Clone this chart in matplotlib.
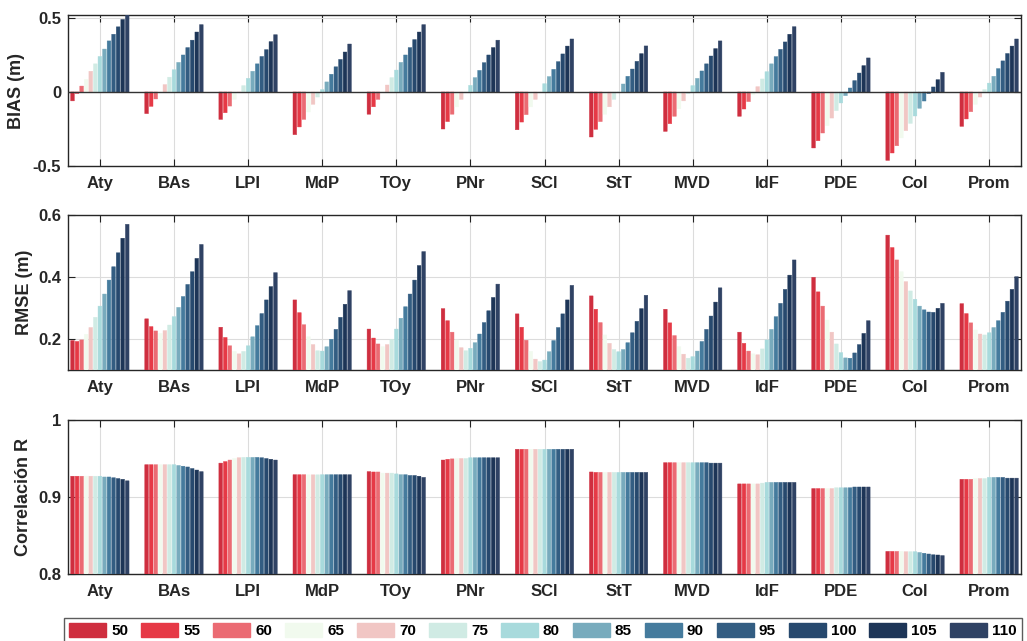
import numpy as np
import matplotlib.pyplot as plt
from matplotlib.patches import Patch

plt.rcParams['font.family'] = ['Liberation Sans', 'DejaVu Sans']
plt.rcParams['font.weight'] = 'bold'

sites = ['Aty', 'BAs', 'LPI', 'MdP', 'TOy', 'PNr', 'SCl', 'StT', 'MVD', 'IdF', 'PDE', 'Col', 'Prom']
levels = ['50', '55', '60', '65', '70', '75', '80', '85', '90', '95', '100', '105', '110']
colors = ['#cf2e3f', '#e63946', '#eb6b73', '#f1faee', '#f1c6c4', '#d0ebe4', '#a8dadc',
          '#78abbd', '#457b9d', '#335d82', '#27496e', '#1d3557', '#2f4264']

# rows = sites, columns = levels
bias = [
    [-0.06, -0.01, 0.04, 0.085, 0.14, 0.19, 0.24, 0.29, 0.345, 0.39, 0.44, 0.49, 0.54],
    [-0.146, -0.097, -0.047, 0.0, 0.05, 0.10, 0.15, 0.20, 0.25, 0.30, 0.35, 0.405, 0.455],
    [-0.185, -0.14, -0.095, -0.05, -0.005, 0.043, 0.092, 0.14, 0.19, 0.24, 0.286, 0.34, 0.387],
    [-0.288, -0.236, -0.185, -0.135, -0.083, -0.034, 0.016, 0.068, 0.12, 0.17, 0.22, 0.27, 0.324],
    [-0.15, -0.10, -0.05, 0.0, 0.047, 0.097, 0.148, 0.20, 0.25, 0.30, 0.354, 0.405, 0.455],
    [-0.25, -0.20, -0.15, -0.10, -0.05, -0.005, 0.045, 0.097, 0.146, 0.198, 0.25, 0.30, 0.35],
    [-0.255, -0.203, -0.153, -0.10, -0.05, 0.0, 0.056, 0.104, 0.153, 0.205, 0.257, 0.31, 0.358],
    [-0.304, -0.252, -0.20, -0.15, -0.10, -0.05, 0.0, 0.054, 0.106, 0.155, 0.207, 0.259, 0.311],
    [-0.266, -0.214, -0.164, -0.113, -0.06, -0.011, 0.043, 0.092, 0.142, 0.19, 0.243, 0.293, 0.345],
    [-0.164, -0.115, -0.065, -0.016, 0.036, 0.088, 0.137, 0.19, 0.239, 0.288, 0.338, 0.39, 0.441],
    [-0.378, -0.329, -0.277, -0.227, -0.176, -0.126, -0.074, -0.025, 0.027, 0.077, 0.128, 0.178, 0.23],
    [-0.462, -0.412, -0.363, -0.31, -0.261, -0.212, -0.162, -0.11, -0.061, -0.011, 0.034, 0.083, 0.133],
    [-0.232, -0.182, -0.133, -0.083, -0.034, 0.016, 0.06, 0.106, 0.158, 0.21, 0.26, 0.31, 0.358],
]
rmse = [
    [0.195, 0.192, 0.197, 0.215, 0.237, 0.27, 0.306, 0.345, 0.39, 0.433, 0.478, 0.525, 0.57],
    [0.265, 0.24, 0.226, 0.218, 0.227, 0.245, 0.272, 0.302, 0.337, 0.376, 0.417, 0.46, 0.505],
    [0.238, 0.205, 0.178, 0.16, 0.152, 0.16, 0.178, 0.207, 0.243, 0.282, 0.326, 0.369, 0.414],
    [0.326, 0.285, 0.246, 0.207, 0.182, 0.162, 0.161, 0.175, 0.199, 0.231, 0.27, 0.312, 0.356],
    [0.232, 0.203, 0.184, 0.175, 0.182, 0.199, 0.232, 0.267, 0.304, 0.345, 0.39, 0.437, 0.482],
    [0.298, 0.259, 0.222, 0.197, 0.172, 0.162, 0.17, 0.188, 0.216, 0.253, 0.291, 0.334, 0.377],
    [0.281, 0.238, 0.196, 0.16, 0.135, 0.127, 0.132, 0.159, 0.195, 0.237, 0.281, 0.326, 0.373],
    [0.339, 0.296, 0.253, 0.213, 0.186, 0.166, 0.159, 0.166, 0.188, 0.22, 0.257, 0.298, 0.341],
    [0.296, 0.252, 0.211, 0.175, 0.151, 0.138, 0.143, 0.161, 0.192, 0.231, 0.274, 0.319, 0.365],
    [0.222, 0.186, 0.161, 0.152, 0.149, 0.168, 0.197, 0.231, 0.272, 0.315, 0.36, 0.406, 0.455],
    [0.399, 0.352, 0.306, 0.261, 0.222, 0.184, 0.156, 0.139, 0.138, 0.155, 0.182, 0.218, 0.259],
    [0.535, 0.495, 0.455, 0.417, 0.385, 0.355, 0.328, 0.306, 0.294, 0.287, 0.286, 0.299, 0.315],
    [0.314, 0.282, 0.252, 0.229, 0.216, 0.213, 0.22, 0.237, 0.259, 0.286, 0.322, 0.36, 0.401],
]
corr = [
    [0.927, 0.927, 0.927, 0.927, 0.927, 0.927, 0.927, 0.926, 0.926, 0.925, 0.924, 0.923, 0.921],
    [0.942, 0.942, 0.942, 0.942, 0.942, 0.942, 0.942, 0.941, 0.940, 0.939, 0.937, 0.935, 0.933],
    [0.944, 0.946, 0.948, 0.950, 0.951, 0.9515, 0.9515, 0.9515, 0.9515, 0.951, 0.950, 0.949, 0.948],
    [0.929, 0.929, 0.929, 0.9288, 0.9288, 0.9288, 0.929, 0.929, 0.929, 0.929, 0.929, 0.929, 0.929],
    [0.933, 0.9325, 0.9325, 0.931, 0.931, 0.931, 0.930, 0.929, 0.929, 0.928, 0.928, 0.927, 0.9255],
    [0.948, 0.949, 0.9495, 0.950, 0.950, 0.950, 0.951, 0.951, 0.951, 0.951, 0.951, 0.951, 0.951],
    [0.962, 0.962, 0.962, 0.962, 0.962, 0.962, 0.962, 0.962, 0.962, 0.962, 0.962, 0.962, 0.962],
    [0.9325, 0.932, 0.932, 0.932, 0.932, 0.932, 0.932, 0.932, 0.932, 0.932, 0.932, 0.932, 0.932],
    [0.9446, 0.9446, 0.9446, 0.9446, 0.9446, 0.9446, 0.9446, 0.9446, 0.9446, 0.9446, 0.944, 0.944, 0.944],
    [0.917, 0.917, 0.917, 0.917, 0.917, 0.918, 0.919, 0.919, 0.919, 0.919, 0.919, 0.919, 0.919],
    [0.911, 0.911, 0.911, 0.911, 0.911, 0.912, 0.912, 0.912, 0.912, 0.913, 0.913, 0.913, 0.913],
    [0.8294, 0.8294, 0.8294, 0.8294, 0.829, 0.829, 0.829, 0.828, 0.827, 0.826, 0.825, 0.8247, 0.824],
    [0.923, 0.923, 0.923, 0.924, 0.924, 0.924, 0.9255, 0.9255, 0.9255, 0.9255, 0.9245, 0.9245, 0.9245],
]

fig = plt.figure(figsize=(10.27, 6.41), dpi=100)
x = np.arange(1, len(sites) + 1)
slot = 0.8 / len(levels)

panels = [
    (bias, 'BIAS (m)', (-0.5, 0.52), [-0.5, 0, 0.5], ['-0.5', '0', '0.5'], 0.741, 0.2356, -0.045),
    (rmse, 'RMSE (m)', (0.1, 0.6), [0.2, 0.4, 0.6], ['0.2', '0.4', '0.6'], 0.4228, 0.2418, -0.037),
    (corr, 'Correlación R', (0.8, 1.0), [0.8, 0.9, 1.0], ['0.8', '0.9', '1'], 0.1045, 0.2403, -0.038),
]

for data, ylabel, ylim, yticks, yticklabels, bottom, height, labx in panels:
    ax = fig.add_axes([68 / 1027, bottom, 953 / 1027, height])
    vals = np.array(data)
    for j in range(len(levels)):
        ax.bar(x + (j - 6) * slot, vals[:, j], width=slot * 0.8, color=colors[j],
               edgecolor=colors[j], linewidth=0.3, zorder=3, snap=False)
    if ylim[0] < 0:
        ax.axhline(0, color='#333333', linewidth=1, zorder=4)
    ax.set_xlim(0.57, 13.43)
    ax.set_ylim(*ylim)
    ax.set_xticks(x)
    ax.set_xticklabels(sites)
    ax.set_yticks(yticks)
    ax.set_yticklabels(yticklabels)
    ax.set_axisbelow(True)
    ax.grid(True, color='#dcdcdc', linewidth=0.8)
    ax.tick_params(direction='in', length=5, width=0.8, top=True, right=True,
                   color='#222222', labelsize=12, labelcolor='#262626')
    ax.tick_params(axis='x', pad=7)
    ax.tick_params(axis='y', pad=5)
    for s in ax.spines.values():
        s.set_color('#262626')
        s.set_linewidth(1)
    ax.set_ylabel(ylabel, fontsize=13, fontweight='bold', color='#262626')
    ax.yaxis.set_label_coords(labx, 0.5)

handles = [Patch(facecolor=c, edgecolor=c) for c in colors]
fig.legend(handles, levels, loc='upper left', bbox_to_anchor=(64 / 1027, 1 - 618 / 641),
           ncol=len(levels), frameon=True, fancybox=False, edgecolor='#333333',
           fontsize=11, handlelength=2.42, handleheight=0.98, handletextpad=0.33,
           columnspacing=0.85, borderpad=0.35, borderaxespad=0)

fig.savefig('out.png', dpi=100)
